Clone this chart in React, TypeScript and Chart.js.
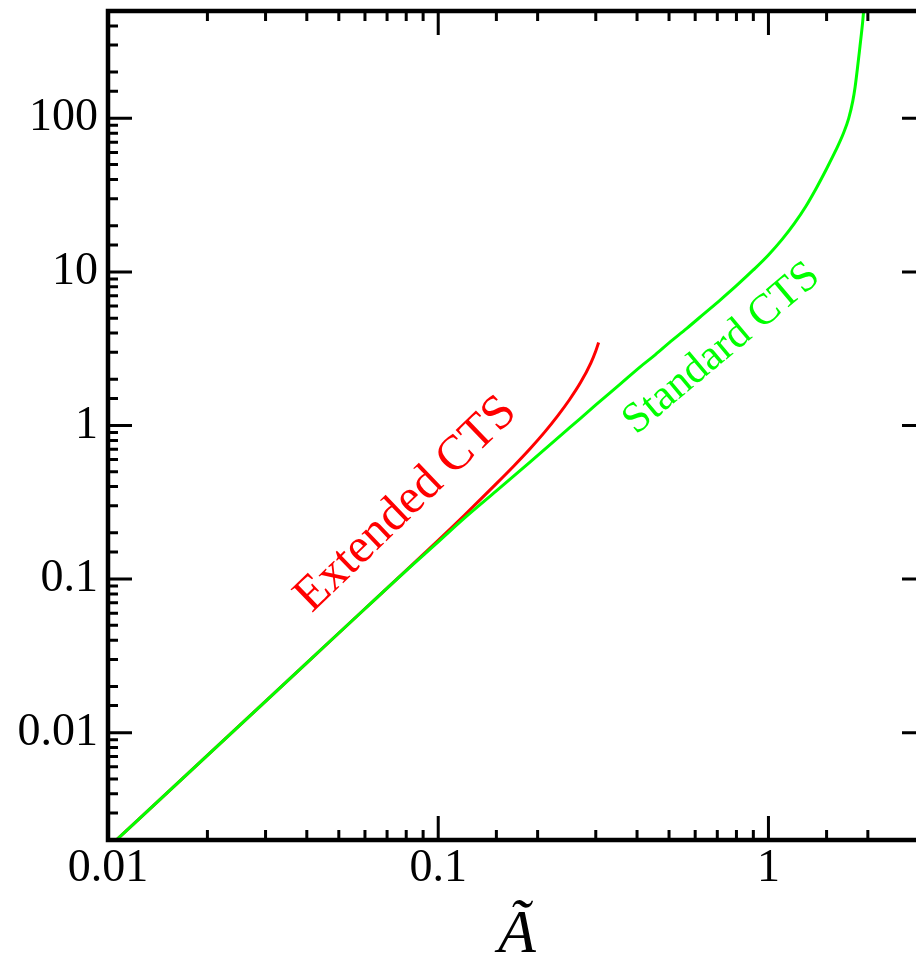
import React, { useEffect, useRef } from 'react';
import { Chart, registerables } from 'chart.js';

Chart.register(...registerables);

// ---- axis ranges and tick labels ----
const xMin = 0.01;
const xMax = 3;
const yMin = 0.002;
const yMax = 500;
const xTickValues = [0.01, 0.1, 1];
const xTickLabels = ['0.01', '0.1', '1'];
const yTickValues = [0.01, 0.1, 1, 10, 100];
const yTickLabels = ['0.01', '0.1', '1', '10', '100'];
const xTitle = 'Ã';

// ---- series ----
const seriesNames = ['Extended CTS', 'Standard CTS'];

const extendedX = [0.01, 0.02, 0.04, 0.06, 0.08, 0.1, 0.12, 0.15, 0.17, 0.19, 0.21, 0.23, 0.25, 0.27, 0.29, 0.3, 0.306];
const extendedY = [0.00178, 0.00712, 0.0285, 0.0641, 0.114, 0.179, 0.2605, 0.418, 0.549, 0.708, 0.905, 1.155, 1.477, 1.91, 2.56, 3.055, 3.47];

const standardX = [0.01, 0.02, 0.04, 0.06, 0.08, 0.1, 0.12, 0.15, 0.19, 0.25, 0.3, 0.3556, 0.409, 0.449, 0.5, 0.566, 0.64, 0.714, 0.8, 0.9, 1.0, 1.1, 1.2, 1.3, 1.4, 1.5, 1.6, 1.687, 1.75, 1.801, 1.83, 1.86, 1.89, 1.912, 1.93, 1.945];
const standardY = [0.00178, 0.00712, 0.0285, 0.0641, 0.1135, 0.1745, 0.249, 0.375, 0.58, 0.967, 1.36, 1.86, 2.41, 2.83, 3.45, 4.29, 5.37, 6.56, 8.14, 10.3, 12.9, 16.3, 20.8, 26.9, 35.5, 47, 62, 80, 100, 130, 160, 212, 285, 355, 430, 520];

const RED = '#ff0000';
const GREEN = '#00ff00';
const SERIF = '"Liberation Serif", serif';

const isDecade = (v: number) => Math.abs(Math.log10(v) - Math.round(Math.log10(v))) < 1e-6;
const labelFor = (values: number[], labels: string[], v: number) => {
  const i = values.findIndex((t) => Math.abs(Math.log10(t) - Math.log10(v)) < 1e-6);
  return i >= 0 ? labels[i] : '';
};

const framePlugin = {
  id: 'frame',
  afterDatasetsDraw(chart: any) {
    const { ctx, chartArea } = chart;
    const { left, right, top, bottom } = chartArea;
    const xs = chart.scales.x;
    const ys = chart.scales.y;
    ctx.save();
    ctx.strokeStyle = '#000';
    ctx.lineWidth = 3;
    ctx.lineCap = 'butt';
    for (const t of xs.ticks) {
      const px = xs.getPixelForValue(t.value);
      const len = isDecade(t.value) ? 24 : 10;
      ctx.beginPath();
      ctx.moveTo(px, bottom);
      ctx.lineTo(px, bottom - len);
      ctx.moveTo(px, top);
      ctx.lineTo(px, top + len);
      ctx.stroke();
    }
    for (const t of ys.ticks) {
      const py = ys.getPixelForValue(t.value);
      const len = isDecade(t.value) ? 24 : 10;
      ctx.beginPath();
      ctx.moveTo(left, py);
      ctx.lineTo(left + len, py);
      ctx.moveTo(right, py);
      ctx.lineTo(right - len, py);
      ctx.stroke();
    }
    ctx.lineWidth = 4.5;
    ctx.strokeRect(left, top, right - left, bottom - top);

    // curve labels
    const drawLabel = (text: string, xv: number, yv: number, deg: number, size: number, color: string) => {
      ctx.save();
      ctx.translate(xs.getPixelForValue(xv), ys.getPixelForValue(yv));
      ctx.rotate((-deg * Math.PI) / 180);
      ctx.font = `${size}px ${SERIF}`;
      ctx.fillStyle = color;
      ctx.textAlign = 'center';
      ctx.textBaseline = 'middle';
      ctx.fillText(text, 0, 0);
      ctx.restore();
    };
    drawLabel(seriesNames[0], 0.0799, 0.306, 44, 49, RED);
    drawLabel(seriesNames[1], 0.7217, 3.17, 40, 43, GREEN);

    // x-axis title
    ctx.font = `italic 62px ${SERIF}`;
    ctx.fillStyle = '#000';
    ctx.textAlign = 'center';
    ctx.textBaseline = 'alphabetic';
    ctx.fillText(xTitle, (left + right) / 2, 952);
    ctx.restore();
  },
};

export default function App() {
  const ref = useRef<HTMLCanvasElement | null>(null);
  useEffect(() => {
    if (!ref.current) return;
    const chart = new Chart(ref.current, {
      type: 'line',
      data: {
        datasets: [
          {
            label: seriesNames[1],
            data: standardX.map((x, i) => ({ x, y: standardY[i] })),
            borderColor: GREEN,
            borderWidth: 3,
            pointRadius: 0,
            fill: false,
            cubicInterpolationMode: 'monotone',
          },
          {
            label: seriesNames[0],
            data: extendedX.map((x, i) => ({ x, y: extendedY[i] })),
            borderColor: RED,
            borderWidth: 3,
            pointRadius: 0,
            fill: false,
            cubicInterpolationMode: 'monotone',
          },
        ],
      },
      options: {
        responsive: false,
        animation: false,
        devicePixelRatio: 1,
        layout: { padding: { left: 0, right: 14, top: 11, bottom: 0 } },
        plugins: { legend: { display: false }, tooltip: { enabled: false } },
        scales: {
          x: {
            type: 'logarithmic',
            min: xMin,
            max: xMax,
            grid: { display: false, drawTicks: false },
            border: { display: false },
            ticks: {
              autoSkip: false,
              maxRotation: 0,
              padding: 1,
              color: '#000',
              font: { family: SERIF, size: 46 },
              callback: (v: any) => labelFor(xTickValues, xTickLabels, Number(v)),
            },
            afterFit: (s: any) => {
              s.height = 116;
              s.paddingLeft = 0;
              s.paddingRight = 0;
            },
          },
          y: {
            type: 'logarithmic',
            min: yMin,
            max: yMax,
            grid: { display: false, drawTicks: false },
            border: { display: false },
            ticks: {
              autoSkip: false,
              padding: 10,
              color: '#000',
              font: { family: SERIF, size: 46 },
              callback: (v: any) => labelFor(yTickValues, yTickLabels, Number(v)),
            },
            afterFit: (s: any) => {
              s.width = 108;
              s.paddingTop = 0;
              s.paddingBottom = 0;
            },
          },
        },
      },
      plugins: [framePlugin],
    } as any);
    return () => chart.destroy();
  }, []);
  return (
    <div style={{ position: 'fixed', left: 0, top: 0, width: 916, height: 956, overflow: 'hidden', background: '#fff' }}>
      <canvas ref={ref} width={940} height={956} style={{ display: 'block' }} />
    </div>
  );
}
